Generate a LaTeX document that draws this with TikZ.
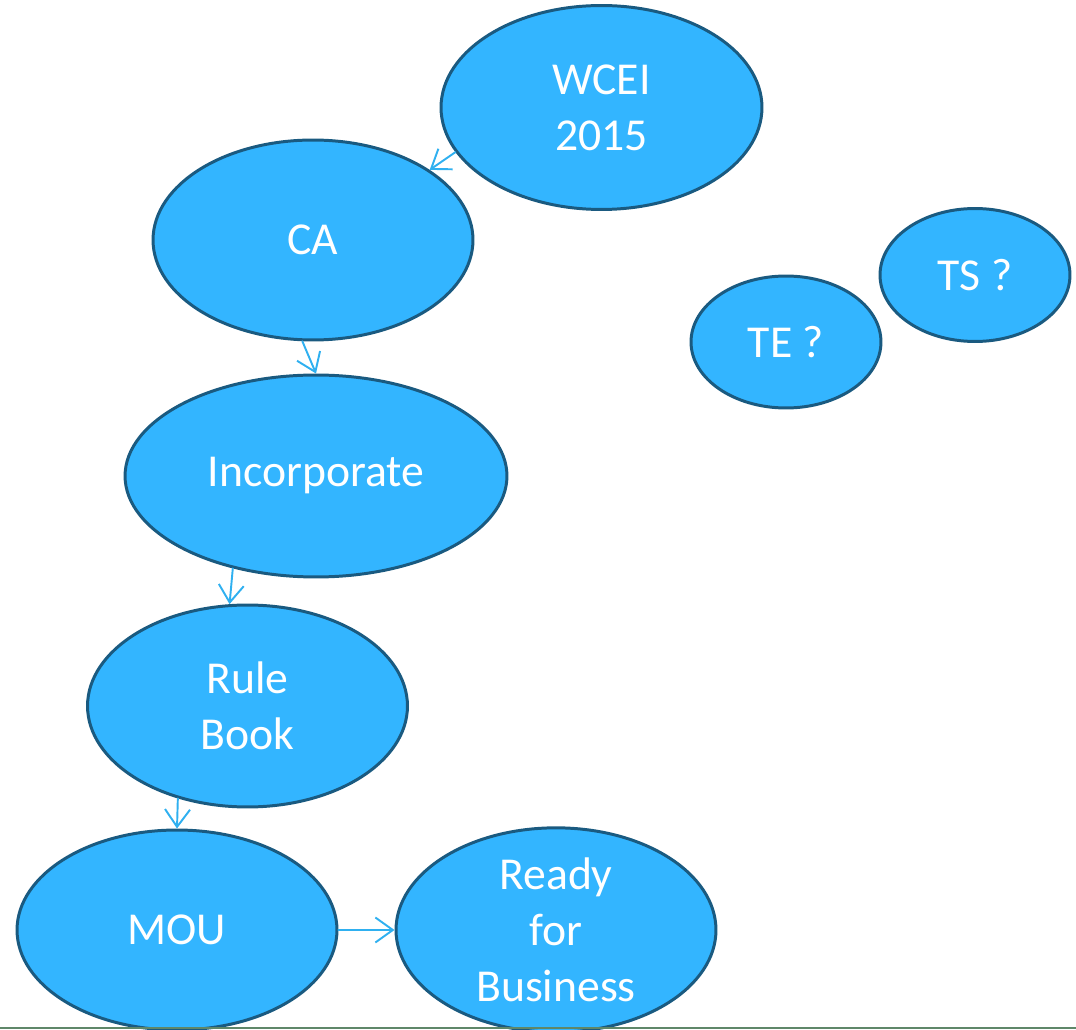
\documentclass[tikz,border=0pt]{standalone}
\usepackage{fontspec}
\setmainfont{Carlito}
\usetikzlibrary{shapes.geometric,arrows.meta}
\definecolor{blobfill}{RGB}{51,181,255}
\definecolor{blobline}{RGB}{26,90,128}
\definecolor{linkcol}{RGB}{47,176,240}
\definecolor{rulecol}{RGB}{95,135,105}
\tikzset{
  blob/.style={ellipse, draw=blobline, fill=blobfill, line width=1.7pt, inner sep=0pt,
    text=white, align=center, font=\fontsize{26}{32}\selectfont},
  link/.style={->, draw=linkcol, line width=1.1pt}
}
\begin{document}
\begin{tikzpicture}[x=0.02cm, y=-0.02cm, >={Straight Barb[length=3.5mm,width=5mm]}, line join=round, line cap=round]
\useasboundingbox (0,0) rectangle (1076,1030);
\path
(601.5,107.5) coordinate (W)
(313,240) coordinate (C)
(316,476) coordinate (I)
(247.5,706) coordinate (R)
(177,930) coordinate (M)
(556,930) coordinate (B)
(786,342) coordinate (E)
(975,275) coordinate (S)
;
\node[blob, minimum width=6.42cm, minimum height=4.08cm] (wcei) at (W) {WCEI\\2015};
\node[blob, minimum width=6.4cm, minimum height=4cm] (ca) at (C) {CA};
\node[blob, minimum width=7.64cm, minimum height=4.04cm] (inc) at (I) {Incorporate};
\node[blob, minimum width=6.4cm, minimum height=4.04cm] (rule) at (R) {Rule\\Book};
\node[blob, minimum width=6.4cm, minimum height=4cm] (mou) at (M) {MOU};
\node[blob, minimum width=6.4cm, minimum height=4cm] (ready) at (B) {Ready\\for\\Business};
\node[blob, minimum width=3.8cm, minimum height=2.64cm] (te) at (E) {TE ?};
\node[blob, minimum width=3.8cm, minimum height=2.66cm] (ts) at (S) {TS ?};
\draw[link] (wcei.197) -- (ca.31);
\draw[link] (ca.264) -- (inc.90);
\draw[link] (inc.228) -- (rule.100);
\draw[link] (rule.233) -- (mou.90);
\draw[link] (mou.0) -- (ready.180);
\draw[rulecol, line width=1.5pt] (0,1028) -- (1076,1028);
\end{tikzpicture}
\end{document}
